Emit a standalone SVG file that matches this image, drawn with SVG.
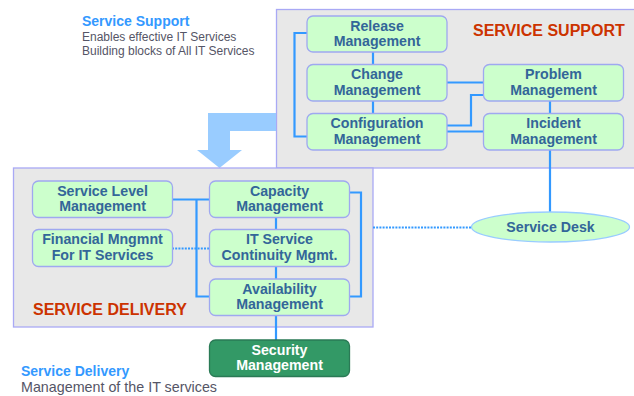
<svg xmlns="http://www.w3.org/2000/svg" width="634" height="396" viewBox="0 0 634 396">
<style>
.area{fill:#e8e8e8;stroke:#a9a9f5;stroke-width:1.3}
.n{fill:#ccffcc;stroke:#9fa8f0;stroke-width:1.3}
.t{font-family:"Liberation Sans",Arial,sans-serif;font-weight:bold;font-size:14.2px;fill:#336699;text-anchor:middle}
.w{fill:#ffffff}
.c{fill:none;stroke:#3399ff;stroke-width:2.2}
.d{fill:none;stroke:#3399ff;stroke-width:2.2;stroke-dasharray:2 1.2}
.h{font-family:"Liberation Sans",Arial,sans-serif;font-weight:bold;font-size:16px;fill:#cc3300}
.b{font-family:"Liberation Sans",Arial,sans-serif;font-weight:bold;font-size:14px;fill:#3399ff}
.g{font-family:"Liberation Sans",Arial,sans-serif;font-size:12px;fill:#555566}
</style>
<rect width="634" height="396" fill="#ffffff"/>
<g id="support-area"><rect class="area" x="276.5" y="9.5" width="370" height="158.5"/>
<text class="h" x="473" y="35.5">SERVICE SUPPORT</text></g>
<g id="move-arrow"><polygon points="276,113 208,113 208,150 197,150 219.5,168 242,150 230,150 230,131 276,131" fill="#99ccff"/></g>
<g id="delivery-area"><rect class="area" x="13.5" y="168" width="359.5" height="159"/>
<text class="h" x="33" y="315">SERVICE DELIVERY</text></g>
<g id="connectors">
<path class="c" d="M373,52V64M373,101V113M307,33H294.5V136.5H307M447,82.5H483M447,125.5H471V95H483M447,131.5H483M550,101V113M550,150V212"/>
<path class="d" d="M373,227.5H472"/>
<path class="c" d="M172,199.5H209M196.5,199.5V296.5H209M276,217V229M276,267V279M349,192.5H361V296.5H349M276,316V340"/>
<path class="d" d="M172,248.5H209"/>
</g>
<g id="release"><rect class="n" x="307" y="16" width="140" height="36" rx="6"/><text class="t" x="377" y="30.5">Release</text><text class="t" x="377" y="46">Management</text></g>
<g id="change"><rect class="n" x="307" y="64.5" width="140" height="36.5" rx="6"/><text class="t" x="377" y="79">Change</text><text class="t" x="377" y="94.5">Management</text></g>
<g id="configuration"><rect class="n" x="307" y="113.5" width="140" height="36.5" rx="6"/><text class="t" x="377" y="128">Configuration</text><text class="t" x="377" y="143.5">Management</text></g>
<g id="problem"><rect class="n" x="483.5" y="64.5" width="140" height="36.5" rx="6"/><text class="t" x="553.5" y="79">Problem</text><text class="t" x="553.5" y="94.5">Management</text></g>
<g id="incident"><rect class="n" x="483.5" y="113.5" width="140" height="36.5" rx="6"/><text class="t" x="553.5" y="128">Incident</text><text class="t" x="553.5" y="143.5">Management</text></g>
<g id="service-desk"><ellipse cx="550.5" cy="227" rx="79" ry="15" fill="#ccffcc" stroke="#99ccff" stroke-width="1.3"/><text class="t" x="550.5" y="231.5">Service Desk</text></g>
<g id="service-level"><rect class="n" x="32.5" y="181" width="140" height="36.5" rx="6"/><text class="t" x="102.5" y="195.5">Service Level</text><text class="t" x="102.5" y="211">Management</text></g>
<g id="financial"><rect class="n" x="32.5" y="229.5" width="140" height="37" rx="6"/><text class="t" x="102.5" y="244">Financial Mngmnt</text><text class="t" x="102.5" y="260">For IT Services</text></g>
<g id="capacity"><rect class="n" x="209.5" y="181" width="140" height="36.5" rx="6"/><text class="t" x="279.5" y="195.5">Capacity</text><text class="t" x="279.5" y="211">Management</text></g>
<g id="continuity"><rect class="n" x="209.5" y="229.5" width="140" height="37" rx="6"/><text class="t" x="279.5" y="244">IT Service</text><text class="t" x="279.5" y="260">Continuity Mgmt.</text></g>
<g id="availability"><rect class="n" x="209.5" y="279" width="140" height="36.5" rx="6"/><text class="t" x="279.5" y="293.5">Availability</text><text class="t" x="279.5" y="309">Management</text></g>
<g id="security"><rect x="209.5" y="340" width="140" height="36.5" rx="6" fill="#339966" stroke="#2a7a55" stroke-width="1.3"/><text class="t w" x="279.5" y="354.5">Security</text><text class="t w" x="279.5" y="370">Management</text></g>
<g id="legend-support"><text class="b" x="82" y="25.5">Service Support</text><text class="g" x="82" y="41">Enables effective IT Services</text><text class="g" x="82" y="55">Building blocks of All IT Services</text></g>
<g id="legend-delivery"><text class="b" x="21" y="376">Service Delivery</text><text class="g" x="21" y="392" style="font-size:14.3px">Management of the IT services</text></g>
</svg>
